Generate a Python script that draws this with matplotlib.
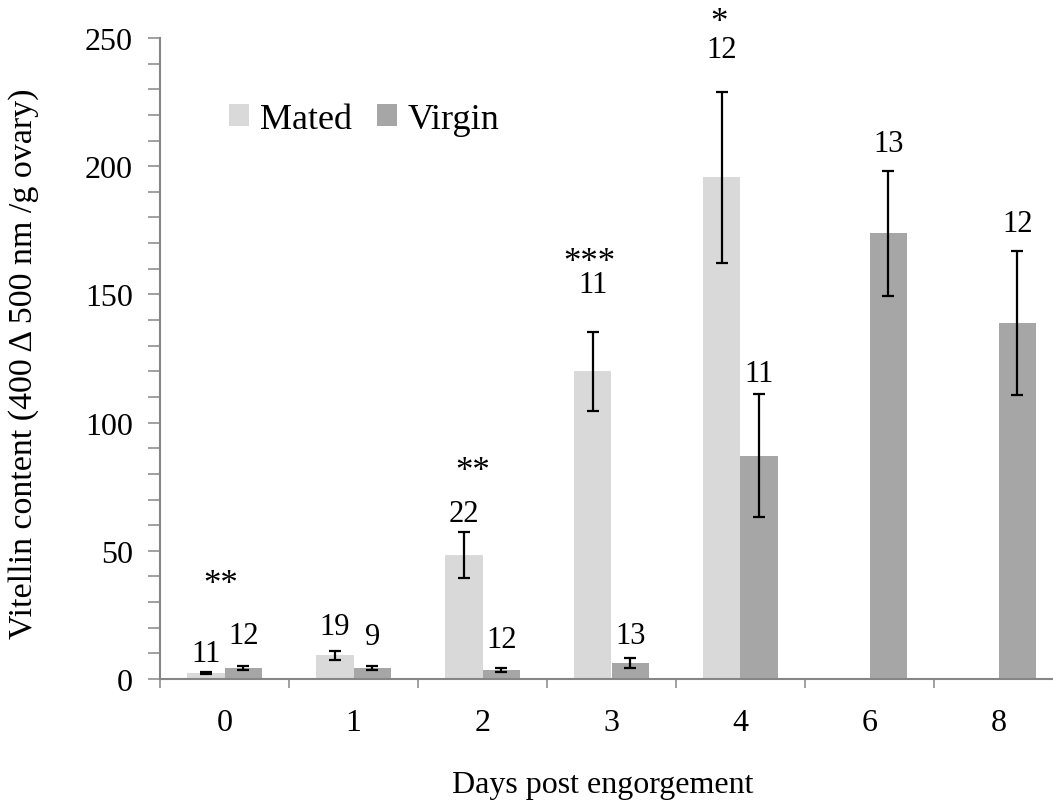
import numpy as np
import matplotlib
matplotlib.use("Agg")
import matplotlib.pyplot as plt
from matplotlib.ticker import MultipleLocator, FixedLocator

# ---- data ----
days = ['0', '1', '2', '3', '4', '6', '8']
mated = [2.3, 9.3, 48.4, 120.1, 195.6, np.nan, np.nan]
mated_err = [0.5, 1.7, 9.0, 15.4, 33.3, np.nan, np.nan]
virgin = [4.3, 4.3, 3.5, 6.2, 87.0, 173.8, 138.8]
virgin_err = [0.8, 0.8, 0.9, 2.0, 24.0, 24.5, 28.2]
mated_n = ['11', '19', '22', '11', '12', '', '']
virgin_n = ['12', '9', '12', '13', '11', '13', '12']
sig_labels = ['**', '', '**', '***', '*', '', '']

# label anchor heights (data units) as placed in the original figure
mated_n_y = [9.8, 20.3, 64.4, 154.0, 245.7, np.nan, np.nan]
virgin_n_y = [16.8, 16.4, 15.6, 16.8, 119.0, 208.7, 177.5]
sig_y = [33.5, np.nan, 77.6, 159.0, 252.7, np.nan, np.nan]
sig_dx = [-0.03, 0, -0.08, -0.17, -0.17, 0, 0]

plt.rcParams['font.family'] = ['Liberation Serif', 'DejaVu Serif']

c_mated = '#D9D9D9'
c_virgin = '#A6A6A6'
c_axis = '#868686'

fig = plt.figure(figsize=(10.53, 8.03), dpi=100)
ax = fig.add_axes([160/1053, 1-680/803, 903/1053, (680-39)/803])

x = np.arange(len(days))
w = 0.29
xm = x - w/2
xv = x + w/2

mm = ~np.isnan(np.array(mated))
ax.bar(xm[mm], np.array(mated)[mm], width=w, color=c_mated, label='Mated', zorder=2)
ax.bar(xv, virgin, width=w, color=c_virgin, label='Virgin', zorder=2)
ax.errorbar(xm[mm], np.array(mated)[mm], yerr=np.array(mated_err)[mm], fmt='none',
            ecolor='black', elinewidth=1.6, capsize=4, capthick=1.6, zorder=3)
ax.errorbar(xv, virgin, yerr=virgin_err, fmt='none',
            ecolor='black', elinewidth=1.6, capsize=4, capthick=1.6, zorder=3)

for i in range(len(days)):
    if mated_n[i]:
        ax.text(xm[i], mated_n_y[i], mated_n[i], ha='center', va='center', fontsize=22, clip_on=False)
    if virgin_n[i]:
        ax.text(xv[i], virgin_n_y[i], virgin_n[i], ha='center', va='center', fontsize=22, clip_on=False)
    if sig_labels[i]:
        ax.text(x[i] + sig_dx[i], sig_y[i], sig_labels[i], ha='center', va='baseline', fontsize=25, clip_on=False)

ax.set_xlim(-0.5, 6.5)
ax.set_ylim(0, 250)

for s in ['top', 'right']:
    ax.spines[s].set_visible(False)
for s in ['left', 'bottom']:
    ax.spines[s].set_color(c_axis)
    ax.spines[s].set_linewidth(1.5)

ax.yaxis.set_major_locator(MultipleLocator(50))
ax.yaxis.set_minor_locator(MultipleLocator(10))
ax.tick_params(axis='y', which='both', direction='out', length=8.6, width=1.1, color=c_axis)
ax.tick_params(axis='y', which='major', labelsize=23, pad=11)

ax.xaxis.set_major_locator(FixedLocator(np.arange(-0.5, 7.0, 1.0)))
ax.xaxis.set_minor_locator(FixedLocator(x))
ax.set_xticklabels([])
ax.set_xticklabels(days, minor=True)
ax.tick_params(axis='x', which='major', direction='out', length=6.5, width=1.1, color=c_axis)
ax.tick_params(axis='x', which='minor', length=0, labelsize=23, pad=21)

leg = ax.legend(loc='center left', bbox_to_anchor=(0.0764, 0.8736), ncol=2, frameon=False,
                fontsize=26, handlelength=0.55, handleheight=0.55, handletextpad=0.3,
                columnspacing=0.7, borderpad=0, borderaxespad=0)

fig.text(24/1053, 1-364/803, 'Vitellin content (400 Δ 500 nm /g ovary)', rotation=90,
         ha='center', va='center', fontsize=24.5)
fig.text(603/1053, 1-793/803, 'Days post engorgement', ha='center', va='baseline', fontsize=23)

fig.savefig('out.png', dpi=100)
